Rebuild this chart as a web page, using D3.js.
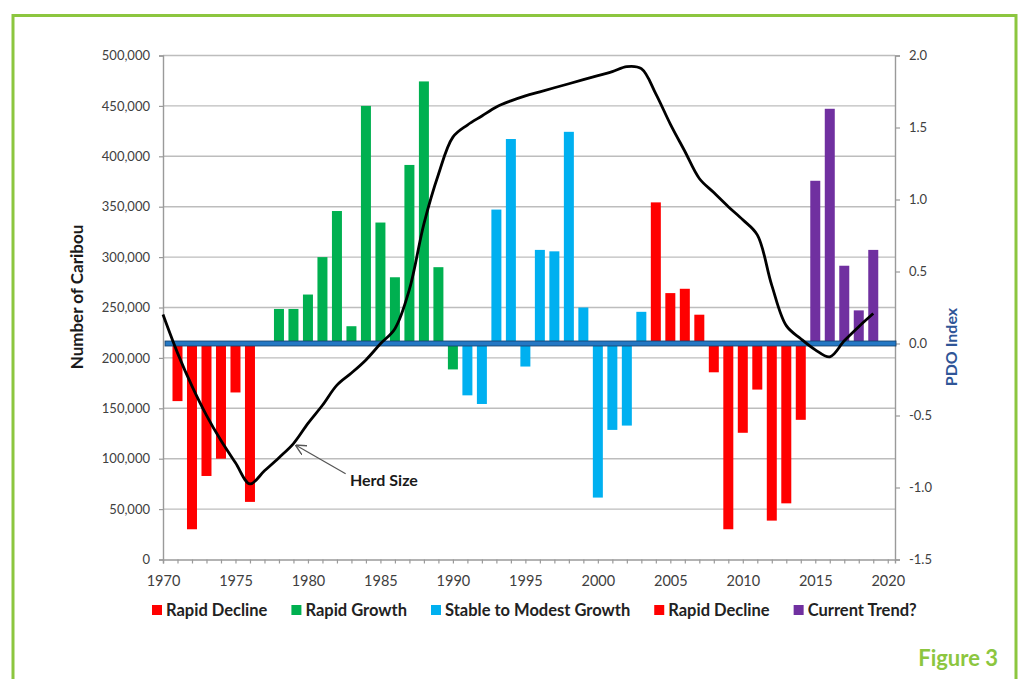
<!DOCTYPE html>
<html>
<head>
<meta charset="utf-8">
<script src="https://cdn.jsdelivr.net/npm/d3@7"></script>
<style>
  body { margin: 0; background: #fff; }
  svg { display: block; font-family: Lato, 'Open Sans', sans-serif; }
</style>
</head>
<body>
<div id="chart"></div>
<script>
// PDO index (bars, right axis). No value for 1977.
const barYears = [1971, 1972, 1973, 1974, 1975, 1976,
  1978, 1979, 1980, 1981, 1982, 1983, 1984, 1985, 1986, 1987, 1988, 1989, 1990,
  1991, 1992, 1993, 1994, 1995, 1996, 1997, 1998, 1999, 2000, 2001, 2002, 2003,
  2004, 2005, 2006, 2007, 2008, 2009, 2010, 2011, 2012, 2013, 2014,
  2015, 2016, 2017, 2018, 2019];
const pdoValues = [-0.40, -1.29, -0.92, -0.80, -0.34, -1.10,
  0.24, 0.24, 0.34, 0.60, 0.92, 0.12, 1.65, 0.84, 0.46, 1.24, 1.82, 0.53, -0.18,
  -0.36, -0.42, 0.93, 1.42, -0.16, 0.65, 0.64, 1.47, 0.25, -1.07, -0.60, -0.57, 0.22,
  0.98, 0.35, 0.38, 0.20, -0.20, -1.29, -0.62, -0.32, -1.23, -1.11, -0.53,
  1.13, 1.63, 0.54, 0.23, 0.65];

// Herd size (line, left axis)
const herdYears = [1970, 1971, 1972, 1973, 1974, 1975, 1976, 1977, 1978, 1979,
  1980, 1981, 1982, 1983, 1984, 1985, 1986, 1987, 1988, 1989,
  1990, 1991, 1992, 1993, 1994, 1995, 1996, 1997, 1998, 1999,
  2000, 2001, 2002, 2003, 2004, 2005, 2006, 2007, 2008, 2009,
  2010, 2011, 2012, 2013, 2014, 2015, 2016, 2017, 2018, 2019];
const herdSize = [243000, 205000, 172000, 143000, 118000, 96000, 75000, 88000, 101000, 115000,
  135000, 153000, 173000, 185000, 198000, 214000, 229000, 268000, 333000, 382000,
  419000, 431000, 440000, 449000, 455000, 460000, 464000, 468000, 472000, 476000,
  480000, 484000, 489000, 487000, 462000, 432000, 405000, 378000, 364000, 350000,
  337000, 322000, 272000, 232000, 219000, 208000, 201000, 217000, 231000, 244000];

// Phases of the herd (legend)
const phaseNames = ['Rapid Decline', 'Rapid Growth', 'Stable to Modest Growth', 'Rapid Decline', 'Current Trend?'];
const phaseStarts = [1970, 1978, 1991, 2004, 2015];
const phaseColors = ['#ff0000', '#00b050', '#00b0f0', '#ff0000', '#7030a0'];

// Axis ticks
const yearTicks = [1970, 1975, 1980, 1985, 1990, 1995, 2000, 2005, 2010, 2015, 2020];
const caribouTicks = [0, 50000, 100000, 150000, 200000, 250000, 300000, 350000, 400000, 450000, 500000];
const pdoTicks = [-1.5, -1.0, -0.5, 0.0, 0.5, 1.0, 1.5, 2.0];

const totalWidth = 1022;
const totalHeight = 679;
const margin = {top: 55.5, right: 127, bottom: 119.5, left: 163};
const width = totalWidth - margin.left - margin.right;
const height = totalHeight - margin.top - margin.bottom;
const green = '#8cc63f';

let svg = d3.select('#chart').append('svg')
    .attr('width', totalWidth)
    .attr('height', totalHeight);

svg.append('rect')
    .attr('width', totalWidth)
    .attr('height', totalHeight)
    .attr('fill', '#fff');

// green frame
svg.append('path')
    .attr('d', 'M13,' + totalHeight + 'V15.5H1016V' + totalHeight)
    .attr('fill', 'none')
    .attr('stroke', green)
    .attr('stroke-width', 3);

svg.append('text')
    .attr('x', 998)
    .attr('y', 666)
    .attr('text-anchor', 'end')
    .attr('fill', green)
    .attr('font-size', 22)
    .attr('font-weight', 700)
    .text('Figure 3');

let g = svg.append('g')
    .attr('transform', 'translate(' + margin.left + ',' + margin.top + ')');

let x = d3.scaleLinear().domain([1970, 2020.5]).range([0, width]);
let yL = d3.scaleLinear().domain([0, 500000]).range([height, 0]);
let yR = d3.scaleLinear().domain([-1.5, 2]).range([height, 0]);

// gridlines
g.append('g')
  .selectAll('line')
  .data(caribouTicks.slice(1))
  .enter().append('line')
    .attr('x1', 0)
    .attr('x2', width)
    .attr('y1', function(d) { return yL(d); })
    .attr('y2', function(d) { return yL(d); })
    .attr('stroke', '#bdbdbd')
    .attr('stroke-width', 1.4);

// left axis
let leftAxis = g.append('g')
    .call(d3.axisLeft(yL).tickValues(caribouTicks).tickSize(4).tickPadding(9)
      .tickFormat(d3.format(',')));

// right axis
let rightAxis = g.append('g')
    .attr('transform', 'translate(' + width + ',0)')
    .call(d3.axisRight(yR).tickValues(pdoTicks).tickSize(5).tickPadding(9)
      .tickFormat(function(d) { return d.toFixed(1); }));

// bottom axis: minor ticks every year, labels every 5
let bottomAxis = g.append('g')
    .attr('transform', 'translate(0,' + height + ')')
    .call(d3.axisBottom(x).tickValues(herdYears.concat([2020])).tickSize(4).tickPadding(12)
      .tickFormat(function(d) { return yearTicks.indexOf(d) >= 0 ? d : ''; }));

[leftAxis, rightAxis, bottomAxis].forEach(function(ax) {
  ax.select('.domain').attr('stroke', '#9a9a9a').attr('stroke-width', 1.4);
  ax.selectAll('.tick line').attr('stroke', '#9a9a9a').attr('stroke-width', 1.2);
  ax.selectAll('text')
      .attr('fill', '#404040')
      .attr('font-size', 13)
      .attr('font-family', 'Lato, sans-serif');
});
bottomAxis.selectAll('text').attr('font-size', 14.5);

// phase lookup
function phaseOf(year) {
  let p = 0;
  for (let i = 0; i < phaseStarts.length; i++) {
    if (year >= phaseStarts[i]) p = i;
  }
  return p;
}

let bars = barYears.map(function(yr, i) {
  return {year: yr, value: pdoValues[i], phase: phaseOf(yr)};
});

const barW = 10;
g.append('g')
  .selectAll('rect')
  .data(bars)
  .enter().append('rect')
    .attr('x', function(d) { return x(d.year) - barW / 2; })
    .attr('width', barW)
    .attr('y', function(d) { return yR(Math.max(0, d.value)); })
    .attr('height', function(d) { return Math.abs(yR(d.value) - yR(0)); })
    .attr('fill', function(d) { return phaseColors[d.phase]; });

// zero line of PDO index
g.append('rect')
    .attr('x', 2)
    .attr('y', yR(0) - 2.5)
    .attr('width', width - 1)
    .attr('height', 5)
    .attr('fill', '#2478c4')
    .attr('stroke', '#163e66')
    .attr('stroke-width', 0.8);

// herd size line
let herd = herdYears.map(function(yr, i) { return [yr, herdSize[i]]; });
let line = d3.line()
    .x(function(d) { return x(d[0]); })
    .y(function(d) { return yL(d[1]); })
    .curve(d3.curveCatmullRom.alpha(0.5));

g.append('path')
    .datum(herd)
    .attr('d', line)
    .attr('fill', 'none')
    .attr('stroke', '#000')
    .attr('stroke-width', 2.8)
    .attr('stroke-linejoin', 'round');

// annotation
svg.append('defs').append('marker')
    .attr('id', 'arrow')
    .attr('viewBox', '0 0 10 10')
    .attr('refX', 9)
    .attr('refY', 5)
    .attr('markerWidth', 9)
    .attr('markerHeight', 9)
    .attr('orient', 'auto')
  .append('path')
    .attr('d', 'M0,0L10,5L0,10')
    .attr('fill', 'none')
    .attr('stroke', '#555')
    .attr('stroke-width', 1.3);

g.append('line')
    .attr('x1', x(1982.6))
    .attr('y1', yL(85000))
    .attr('x2', x(1979.2))
    .attr('y2', yL(113000))
    .attr('stroke', '#555')
    .attr('stroke-width', 1.2)
    .attr('marker-end', 'url(#arrow)');

g.append('text')
    .attr('x', x(1982.9))
    .attr('y', yL(78000))
    .attr('dy', '0.35em')
    .attr('font-size', 16)
    .attr('font-weight', 700)
    .attr('fill', '#1a1a1a')
    .text('Herd Size');

// axis titles
svg.append('text')
    .attr('transform', 'translate(83,297) rotate(-90)')
    .attr('text-anchor', 'middle')
    .attr('font-size', 17)
    .attr('font-weight', 700)
    .attr('fill', '#1a1a1a')
    .text('Number of Caribou');

svg.append('text')
    .attr('transform', 'translate(957,347) rotate(-90)')
    .attr('text-anchor', 'middle')
    .attr('font-size', 16)
    .attr('font-weight', 700)
    .attr('fill', '#2f5597')
    .text('PDO Index');

// legend
let legend = svg.append('g')
    .attr('transform', 'translate(152,610)');
let lx = 0;
phaseNames.forEach(function(name, i) {
  let item = legend.append('g').attr('transform', 'translate(' + lx + ',0)');
  item.append('rect')
      .attr('y', -5)
      .attr('width', 10)
      .attr('height', 10)
      .attr('fill', phaseColors[i]);
  let t = item.append('text')
      .attr('x', 14)
      .attr('dy', '0.35em')
      .attr('font-size', 16.5)
      .attr('font-weight', 700)
      .attr('fill', '#222')
      .text(name);
  lx += 14 + t.node().getComputedTextLength() + 24;
});
</script>
</body>
</html>
